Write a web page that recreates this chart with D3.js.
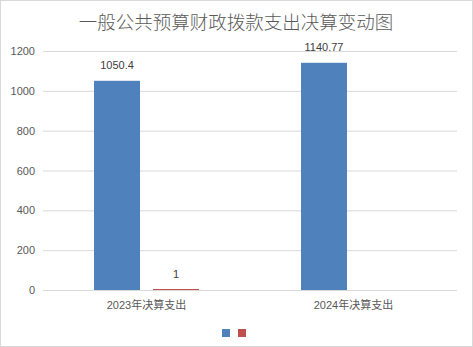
<!DOCTYPE html>
<html>
<head>
<meta charset="utf-8">
<script src="https://cdn.jsdelivr.net/npm/d3@7"></script>
<style>
  body { margin: 0; background: #fff; }
  text { font-family: "Liberation Sans", "Noto Sans CJK SC", sans-serif; }
</style>
</head>
<body>
<div id="chart"></div>
<script>
var categories = ["2023年决算支出", "2024年决算支出"]
var seriesNames = ["a", "b"]
var seriesA = [1050.4, 1140.77]
var seriesB = [1, null]
var yTicks = [0, 200, 400, 600, 800, 1000, 1200]
var colors = ["#4f81bd", "#c0504d"]

var width = 473, height = 347
var margin = { top: 51, right: 16, bottom: 57, left: 43 }

var svg = d3.select("#chart").append("svg")
  .attr("width", width)
  .attr("height", height)

// outer border
svg.append("rect")
  .attr("x", 0.5).attr("y", 0.5)
  .attr("width", width - 1).attr("height", height - 1)
  .attr("fill", "#fff")
  .attr("stroke", "#d9d9d9")

svg.append("text")
  .attr("x", 236).attr("y", 29)
  .attr("text-anchor", "middle")
  .attr("fill", "#595959")
  .style("font-family", "'Noto Sans CJK SC', sans-serif")
  .style("font-weight", 300)
  .style("font-size", "18.5px")
  .text("一般公共预算财政拨款支出决算变动图")

var x0 = d3.scaleBand()
  .domain(categories)
  .range([margin.left, width - margin.right])

var x1 = d3.scaleBand()
  .domain(seriesNames)
  .range([0, x0.bandwidth()])
  .paddingInner(0.22)
  .paddingOuter(0.864)

var y = d3.scaleLinear()
  .domain([0, 1200])
  .range([height - margin.bottom, margin.top])

// gridlines
svg.append("g").selectAll("line")
  .data(yTicks)
  .enter().append("line")
    .attr("x1", margin.left).attr("x2", width - margin.right)
    .attr("y1", function(d) { return y(d) + 0.5 })
    .attr("y2", function(d) { return y(d) + 0.5 })
    .attr("stroke", "#d9d9d9")

// y tick labels
svg.append("g").selectAll("text")
  .data(yTicks)
  .enter().append("text")
    .attr("x", 35)
    .attr("y", function(d) { return y(d) + 4 })
    .attr("text-anchor", "end")
    .attr("fill", "#595959")
    .style("font-size", "11px")
    .text(function(d) { return d })

var rows = categories.map(function(c, i) {
  return { cat: c, vals: [seriesA[i], seriesB[i]] }
})

var groups = svg.append("g").selectAll("g")
  .data(rows)
  .enter().append("g")
    .attr("transform", function(d) { return "translate(" + x0(d.cat) + ",0)" })

groups.selectAll("rect")
  .data(function(d) {
    return d.vals.map(function(v, j) { return { key: seriesNames[j], v: v, j: j } })
      .filter(function(d) { return d.v != null })
  })
  .enter().append("rect")
    .attr("x", function(d) { return x1(d.key) })
    .attr("width", x1.bandwidth())
    .attr("y", function(d) { return Math.min(y(d.v), y(0) - 1) })
    .attr("height", function(d) { return Math.max(y(0) - y(d.v), 1) })
    .attr("fill", function(d) { return colors[d.j] })

groups.selectAll("text.lbl")
  .data(function(d) {
    return d.vals.map(function(v, j) { return { key: seriesNames[j], v: v } })
      .filter(function(d) { return d.v != null })
  })
  .enter().append("text")
    .attr("class", "lbl")
    .attr("x", function(d) { return x1(d.key) + x1.bandwidth() / 2 })
    .attr("y", function(d) { return y(d.v) - 12 })
    .attr("text-anchor", "middle")
    .attr("fill", "#404040")
    .style("font-size", "11px")
    .text(function(d) { return d.v })

// category labels
svg.append("g").selectAll("text")
  .data(categories)
  .enter().append("text")
    .attr("x", function(d) { return x0(d) + x0.bandwidth() / 2 })
    .attr("y", height - margin.bottom + 19)
    .attr("text-anchor", "middle")
    .attr("fill", "#595959")
    .style("font-size", "11px")
    .text(function(d) { return d })

// legend (no text, just swatches)
svg.append("g").selectAll("rect")
  .data(colors)
  .enter().append("rect")
    .attr("x", function(d, i) { return 222 + i * 16 })
    .attr("y", 329)
    .attr("width", 8).attr("height", 8)
    .attr("fill", function(d) { return d })
</script>
</body>
</html>
